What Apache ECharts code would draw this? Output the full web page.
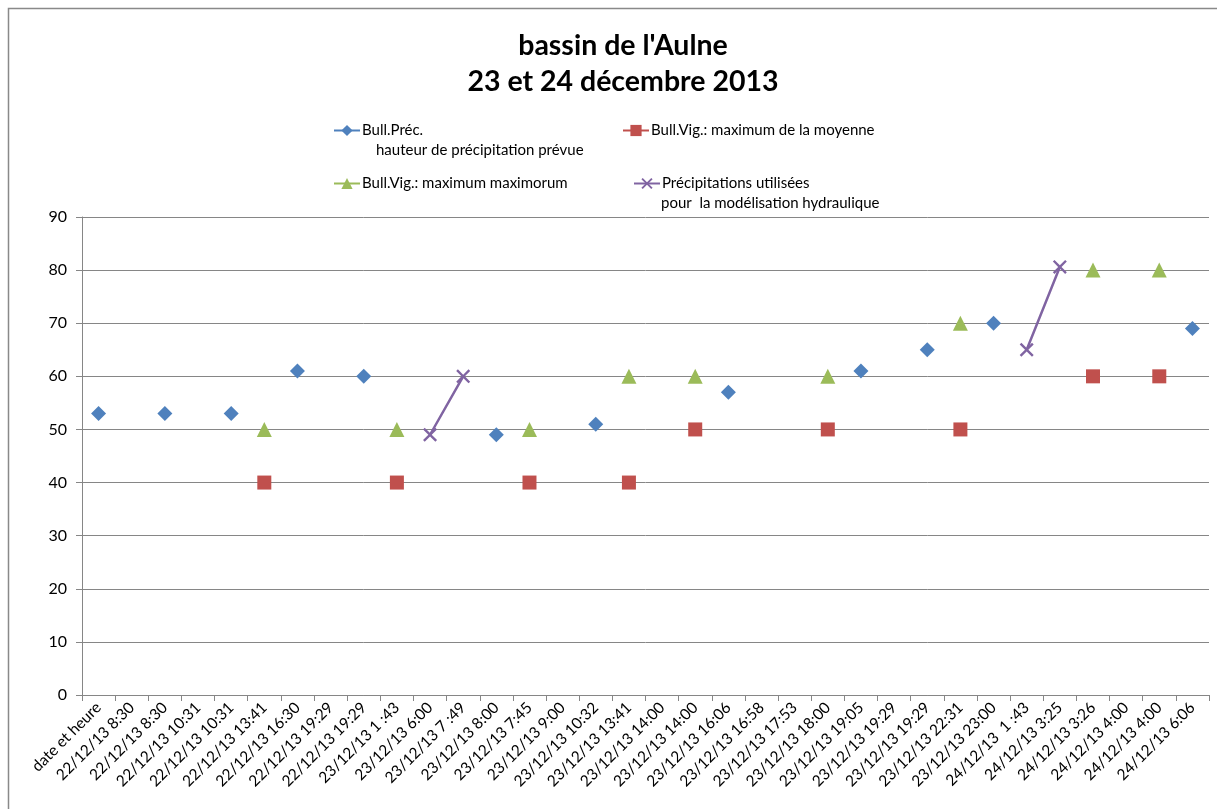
<!DOCTYPE html>
<html>
<head>
<meta charset="utf-8">
<title>bassin de l'Aulne</title>
<script src="https://cdn.jsdelivr.net/npm/echarts@6/dist/echarts.min.js"></script>
<style>
  html, body { margin:0; padding:0; background:#fff; }
  #chart { width:1217px; height:809px; }
</style>
</head>
<body>
<div id="chart"></div>
<script>
// categories of the x axis (as in the source sheet)
var categories = ["date et heure","22/12/13 8:30","22/12/13 8:30","22/12/13 10:31","22/12/13 10:31",
	"22/12/13 13:41","22/12/13 16:30","22/12/13 19:29","22/12/13 19:29","23/12/13 1 :43",
	"23/12/13 6:00","23/12/13 7 :49","23/12/13 8:00","23/12/13 7:45","23/12/13 9:00",
	"23/12/13 10:32","23/12/13 13:41","23/12/13 14:00","23/12/13 14:00","23/12/13 16:06",
	"23/12/13 16:58","23/12/13 17:53","23/12/13 18:00","23/12/13 19:05","23/12/13 19:29",
	"23/12/13 19:29","23/12/13 22:31","23/12/13 23:00","24/12/13  1 :43","24/12/13 3:25",
	"24/12/13 3:26","24/12/13 4:00","24/12/13 4:00","24/12/13 6:06"];

var _ = null;
// Bull.Préc. - hauteur de précipitation prévue
var bullPrec = [53,_,53,_,53,_,61,_,60,_, _,_,49,_,_,51,_,_,_,57, _,_,_,61,_,65,_,70,_,_, _,_,_,69];
// Bull.Vig.: maximum de la moyenne
var vigMoyenne = [_,_,_,_,_,40,_,_,_,40, _,_,_,40,_,_,40,_,50,_, _,_,50,_,_,_,50,_,_,_, 60,_,60,_];
// Bull.Vig.: maximum maximorum
var vigMaxMax = [_,_,_,_,_,50,_,_,_,50, _,_,_,50,_,_,60,_,60,_, _,_,60,_,_,_,70,_,_,_, 80,_,80,_];
// Précipitations utilisées pour la modélisation hydraulique
var precUtil = [_,_,_,_,_,_,_,_,_,_, 49,60,_,_,_,_,_,_,_,_, _,_,_,_,_,_,_,_,65,80.6, _,_,_,_];

var yTicks = {min:0, max:90, interval:10};

var names = ["Bull.Préc.\nhauteur de précipitation prévue", "Bull.Vig.: maximum de la moyenne",
	"Bull.Vig.: maximum maximorum", "Précipitations utilisées\npour  la modélisation hydraulique"];
var colors = ['#4F81BD','#C0504D','#9BBB59','#8064A2'];
var font = 'Lato, Carlito, "Liberation Sans", sans-serif';
var xPath = 'path://M0,1.2L1.2,0L5,3.8L8.8,0L10,1.2L6.2,5L10,8.8L8.8,10L5,6.2L1.2,10L0,8.8L3.8,5Z';

var chart = echarts.init(document.getElementById('chart'));

function legendAt(name, left, top){
	return {
		data:[name], left:left, top:top, itemWidth:26, itemHeight:14, padding:0,
		formatter:function(n){ return n.split('\n')[0]; },
		textStyle:{fontFamily:font, fontSize:15, color:'#000', padding:[0,0,0,-3]}
	};
}

function mkSeries(i, data, symbol, size, lw){
	return {
		name:names[i], type:'line', data:data, connectNulls:false,
		symbol:symbol, symbolSize:size, showSymbol:true,
		lineStyle:{color:colors[i], width:lw},
		itemStyle:{color:colors[i]},
		emphasis:{disabled:true}
	};
}

var option = {
	backgroundColor:'#fff',
	animation:false,
	color:colors,
	title:{
		text:"bassin de l'Aulne\n23 et 24 décembre 2013",
		left:618, top:23, textAlign:'center',
		textStyle:{fontFamily:font, fontSize:28.5, fontWeight:'bold', color:'#000', lineHeight:36}
	},
	legend:[
		legendAt(names[0], 333, 123),
		legendAt(names[1], 622, 123),
		legendAt(names[2], 333, 176),
		legendAt(names[3], 633, 176)
	],
	graphic:[
		{type:'rect', shape:{x:8.5, y:8.5, width:1220, height:820}, style:{fill:null, stroke:'#898989', lineWidth:1.5}, silent:true},
		{type:'text', left:376, top:143, style:{text:'hauteur de précipitation prévue', font:'15px ' + font, fill:'#000'}},
		{type:'text', left:661, top:196, style:{text:'pour  la modélisation hydraulique', font:'15px ' + font, fill:'#000'}}
	],
	grid:{left:82, right:8, top:217, bottom:114},
	xAxis:{
		type:'category', data:categories, boundaryGap:true,
		axisLine:{lineStyle:{color:'#868686'}},
		axisTick:{show:true, length:6, alignWithLabel:false, lineStyle:{color:'#868686'}},
		axisLabel:{interval:0, rotate:45, fontFamily:font, fontSize:15.5, color:'#000', margin:10}
	},
	yAxis:{
		type:'value', min:yTicks.min, max:yTicks.max, interval:yTicks.interval,
		axisLine:{show:true, lineStyle:{color:'#868686'}},
		axisTick:{show:true, length:6, lineStyle:{color:'#868686'}},
		axisLabel:{fontFamily:font, fontSize:16, color:'#000', margin:15},
		splitLine:{lineStyle:{color:'#868686', width:1}}
	},
	series:[
		mkSeries(0, bullPrec, 'diamond', 15, 2.5),
		mkSeries(1, vigMoyenne, 'rect', 14, 2.5),
		mkSeries(2, vigMaxMax, 'triangle', 15, 2.5),
		mkSeries(3, precUtil, xPath, 14, 2.5)
	]
};
chart.setOption(option);
</script>
</body>
</html>
